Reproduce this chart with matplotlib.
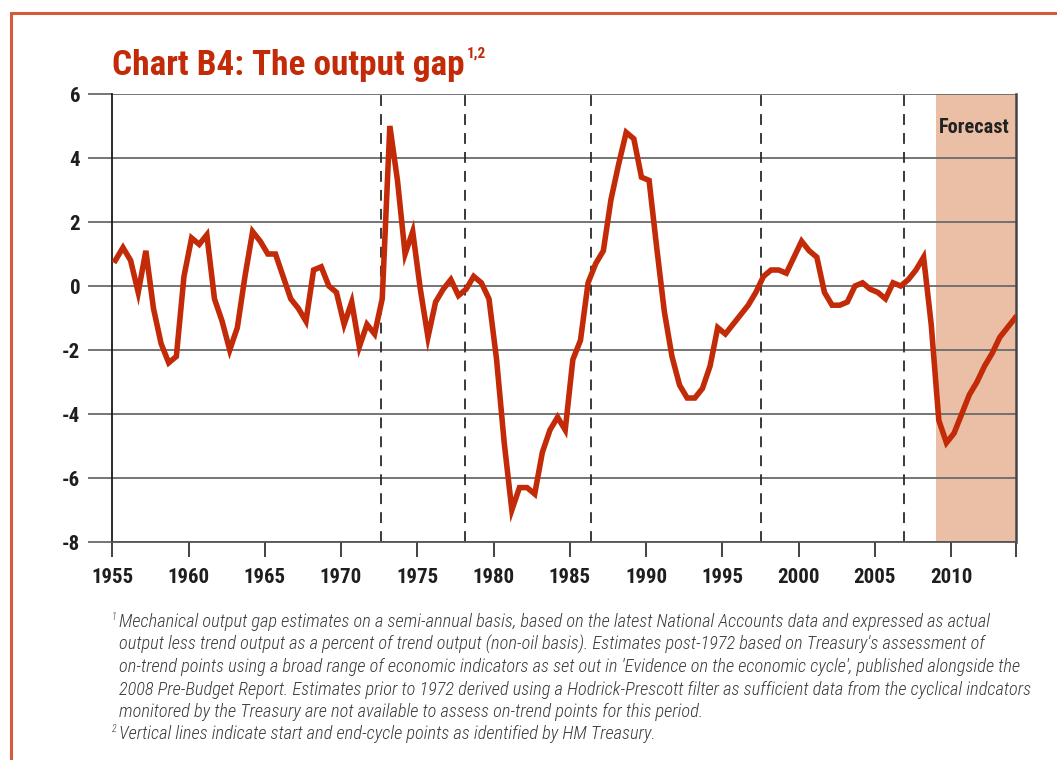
import numpy as np
import matplotlib
matplotlib.use('Agg')
import matplotlib.pyplot as plt
from matplotlib.patches import Rectangle

# UK output gap, semi-annual, 1955H1 .. 2014H1 (% of trend output)
output_gap = [0.8, 1.2, 0.8, -0.2, 1.1, -0.7, -1.8, -2.4, -2.2, 0.3,
              1.5, 1.3, 1.6, -0.4, -1.1, -2.0, -1.3, 0.3, 1.7, 1.4,
              1.0, 1.0, 0.3, -0.4, -0.7, -1.1, 0.5, 0.6, 0.0, -0.2,
              -1.2, -0.5, -1.9, -1.2, -1.5, -0.4, 5.0, 3.3, 1.0, 1.7,
              -0.1, -1.6, -0.5, -0.1, 0.2, -0.3, -0.1, 0.3, 0.1, -0.4,
              -2.3, -4.9, -7.0, -6.3, -6.3, -6.5, -5.2, -4.5, -4.1, -4.5,
              -2.3, -1.7, 0.1, 0.7, 1.1, 2.7, 3.8, 4.8, 4.6, 3.4,
              3.3, 1.2, -0.8, -2.2, -3.1, -3.5, -3.5, -3.2, -2.5, -1.3,
              -1.5, -1.2, -0.9, -0.6, -0.2, 0.3, 0.5, 0.5, 0.4, 0.9,
              1.4, 1.1, 0.9, -0.2, -0.6, -0.6, -0.5, 0.0, 0.1, -0.1,
              -0.2, -0.4, 0.1, 0.0, 0.2, 0.5, 0.9, -1.2, -4.2, -4.9,
              -4.6, -4.0, -3.4, -3.0, -2.5, -2.1, -1.6, -1.3, -1.0]
first_year = 1955
cycle_points = [1972.6, 1978.15, 1986.4, 1997.55, 2006.9]
forecast_start = 2009.0
year_ticks = [1955, 1960, 1965, 1970, 1975, 1980, 1985, 1990, 1995, 2000, 2005, 2010]
gap_ticks = [-8, -6, -4, -2, 0, 2, 4, 6]

footnotes = [
    "Mechanical output gap estimates on a semi-annual basis, based on the latest National Accounts data and expressed as actual",
    "output less trend output as a percent of trend output (non-oil basis). Estimates post-1972 based on Treasury's assessment of",
    "on-trend points using a broad range of economic indicators as set out in 'Evidence on the economic cycle', published alongside the",
    "2008 Pre-Budget Report. Estimates prior to 1972 derived using a Hodrick-Prescott filter as sufficient data from the cyclical indcators",
    "monitored by the Treasury are not available to assess on-trend points for this period.",
    "Vertical lines indicate start and end-cycle points as identified by HM Treasury.",
]

NARROW = ['Liberation Sans Narrow', 'Roboto Condensed', 'Open Sans Condensed', 'Lato', 'DejaVu Sans']
RED = '#c22a08'

W, H = 1057, 760
fig = plt.figure(figsize=(W / 100, H / 100), dpi=100)
renderer = fig.canvas.get_renderer()


def fit_width(txt, target_px):
    w = txt.get_window_extent(renderer).width
    txt.set_fontsize(txt.get_fontsize() * target_px / w)


ax = fig.add_axes([112.3 / W, 1 - 542 / H, (1016.3 - 112.3) / W, (542 - 94) / H])

x = first_year + 0.2 + 0.5 * np.arange(len(output_gap))
x_end = x[-1] + 0.08

ax.axvspan(forecast_start, x_end, color='#ebbea6', lw=0, zorder=0)
for yr in cycle_points:
    ax.axvline(yr, color='#2a2a2a', lw=1.3, ls=(0, (6, 4.5)), zorder=1)
ax.plot(x, output_gap, color=RED, lw=4, solid_joinstyle='miter', zorder=3)

ax.set_xlim(first_year, x_end)
ax.set_ylim(-8, 6)
ax.set_yticks(gap_ticks)
ax.set_yticklabels([str(v) for v in gap_ticks])
ax.set_xticks(year_ticks + [x_end])
ax.set_xticklabels([str(v) for v in year_ticks] + [''])
ax.yaxis.grid(True, color='#6a6a6a', lw=1.3, zorder=1)
ax.set_axisbelow(True)

ax.spines['top'].set_visible(False)
ax.spines['left'].set_color('#1a1a1a')
ax.spines['left'].set_linewidth(1.3)
ax.spines['right'].set_color('#444444')
ax.spines['right'].set_linewidth(1.8)
ax.spines['bottom'].set_color('#555555')
ax.spines['bottom'].set_linewidth(1.3)

ax.tick_params(axis='y', length=17, width=1.3, color='#6a6a6a', pad=6)
ax.tick_params(axis='x', length=11, width=1.3, color='#333333', pad=8)
for lab in ax.get_xticklabels() + ax.get_yticklabels():
    lab.set_family(NARROW)
    lab.set_fontweight('bold')
    lab.set_fontsize(15)
    lab.set_color('#1e1e1e')

fc = ax.text(0.993, 0.925, 'Forecast', transform=ax.transAxes, ha='right', va='center',
             family=NARROW, fontweight='bold', fontsize=13, color='#222222')
fit_width(fc, 70)

# title with superscript
title = fig.text(112 / W, 1 - 75 / H, 'Chart B4: The output gap', family=NARROW,
                 fontweight='bold', fontsize=26, color=RED, va='baseline', ha='left')
fit_width(title, 354)
bb = title.get_window_extent(renderer)
fig.text((bb.x1 + 2) / W, 1 - 58 / H, '1,2', family=NARROW, fontweight='bold',
         fontsize=11, color=RED, va='baseline', ha='left')

# footnotes
line_y = [622, 645, 667, 690, 712, 734]
notes = []
for t, yy in zip(footnotes, line_y):
    notes.append(fig.text(119 / W, 1 - yy / H, t, family=NARROW, style='italic',
                          fontweight='light', fontsize=11, color='#3a3a3a',
                          va='center', ha='left'))
w0 = notes[0].get_window_extent(renderer).width
size = 11 * 871 / w0
for n in notes:
    n.set_fontsize(size)
fig.text(112 / W, 1 - 617 / H, '1', family=NARROW, style='italic', fontweight='light',
         fontsize=7, color='#3a3a3a', va='center', ha='left')
fig.text(112 / W, 1 - 729 / H, '2', family=NARROW, style='italic', fontweight='light',
         fontsize=7, color='#3a3a3a', va='center', ha='left')

# panel border
fig.patches.append(Rectangle((11 / W, -0.1), 1.2, 1 - 13 / H + 0.1, transform=fig.transFigure,
                             fill=False, edgecolor='#d45a3c', lw=2.2))

fig.savefig('out.png', dpi=100)
